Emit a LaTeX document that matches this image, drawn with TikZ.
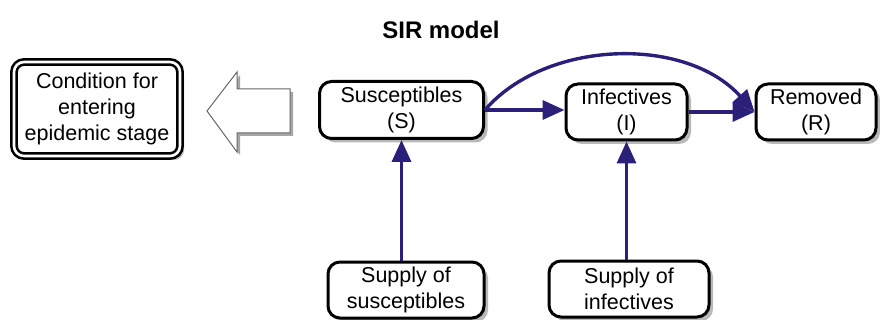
\documentclass[tikz,border=0pt]{standalone}
\usepackage{fontspec}
\setmainfont{Liberation Sans}
\usetikzlibrary{arrows.meta,shadows}
\definecolor{navy}{RGB}{42,32,122}
\begin{document}
\begin{tikzpicture}[x=1pt,y=-1pt,
  box/.style={draw=black,line width=3pt,rounded corners=12pt,fill=white,align=center,
    inner sep=0pt,font=\fontsize{21.5}{26}\selectfont,
    drop shadow={shadow xshift=4pt,shadow yshift=-4pt,fill=gray!55,opacity=1}},
  flow/.style={draw=navy,line width=3.4pt,-{Triangle[length=22pt,width=19pt]}}]
\useasboundingbox (0,0) rectangle (880,320);
\node[font=\bfseries\fontsize{24}{28}\selectfont] (title) at (441,30) {SIR model};
\node[box,double=white,double distance=2.6pt,line width=2.6pt,minimum width=166pt,minimum height=94pt,rounded corners=10pt] (cond) at (97,109) {Condition for\\entering\\epidemic stage};
\node[box,minimum width=164pt,minimum height=57pt] (S) at (401.5,110) {Susceptibles\\(S)};
\node[box,minimum width=121pt,minimum height=56pt] (I) at (626.5,112) {Infectives\\(I)};
\node[box,minimum width=120pt,minimum height=56pt] (R) at (816,112) {Removed\\(R)};
\node[box,minimum width=156pt,minimum height=56pt] (SS) at (406,290) {Supply of\\susceptibles};
\node[box,minimum width=160pt,minimum height=56pt] (SI) at (629,289) {Supply of\\infectives};
\draw[draw=gray!80!black,line width=1pt,fill=white,
  drop shadow={shadow xshift=3pt,shadow yshift=-3pt,fill=gray!70,opacity=1}]
  (290,89) -- (237,89) -- (237,72) -- (207,111) -- (237,152) -- (237,133) -- (290,133) -- cycle;
\draw[flow] (S.east) -- (I.west |- S.east);
\draw[flow] (I.east) -- (R.west);
\draw[flow] (S.east) .. controls (545,40) and (685,35) .. (R.west);
\draw[flow] (SS.north -| S.south) -- (S.south);
\draw[flow] (SI.north -| I.south) -- (I.south);
\end{tikzpicture}
\end{document}
